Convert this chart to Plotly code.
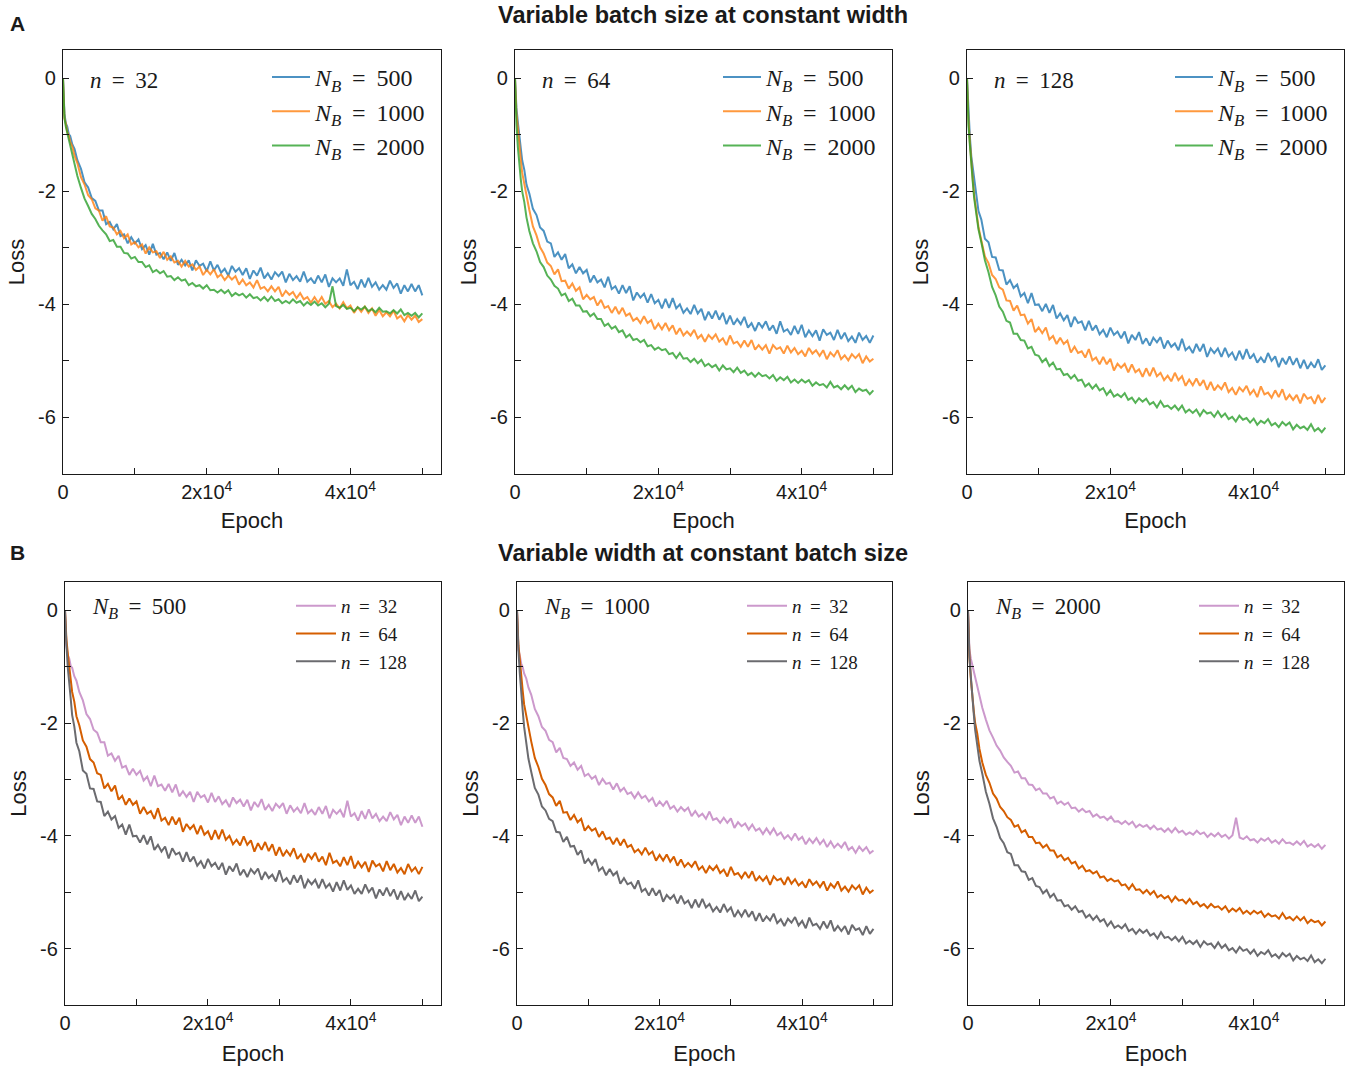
import plotly.graph_objects as go

W, H = 1361, 1074

# Training epochs at which the loss was logged
EPOCHS = [0, 100, 200, 400, 600, 800, 1000, 1300, 1600, 2000, 2500, 3000, 3500, 4000, 4500, 5000] + \
    list(range(5500, 50001, 500))

# Loss curves, one per (width n, batch size N_B)
loss_n32_b500 = [
    0.0, -0.45, -0.63, -0.80, -0.86, -0.99, -1.02, -1.17, -1.25, -1.45, -1.60, -1.84, -1.93, -2.12, -2.17, -2.34,
    -2.34, -2.58, -2.54, -2.67, -2.58, -2.79, -2.76, -2.92, -2.81, -2.92,
    -2.85, -3.02, -2.95, -3.12, -2.93, -3.12, -3.09, -3.20, -3.08, -3.23,
    -3.09, -3.30, -3.21, -3.31, -3.22, -3.40, -3.22, -3.32, -3.28, -3.41,
    -3.24, -3.40, -3.30, -3.44, -3.37, -3.49, -3.32, -3.42, -3.36, -3.48,
    -3.36, -3.55, -3.40, -3.49, -3.35, -3.54, -3.45, -3.56, -3.43, -3.50,
    -3.42, -3.61, -3.46, -3.57, -3.50, -3.60, -3.42, -3.60, -3.54, -3.63,
    -3.49, -3.61, -3.47, -3.69, -3.54, -3.61, -3.54, -3.67, -3.38, -3.66,
    -3.60, -3.73, -3.56, -3.70, -3.53, -3.69, -3.61, -3.74, -3.66, -3.74,
    -3.58, -3.71, -3.63, -3.81, -3.66, -3.77, -3.64, -3.77, -3.66, -3.84]
loss_n32_b1000 = [
    0.0, -0.50, -0.70, -0.81, -0.95, -1.01, -1.12, -1.21, -1.37, -1.50, -1.75, -1.88, -2.07, -2.14, -2.30, -2.34,
    -2.52, -2.44, -2.62, -2.64, -2.76, -2.70, -2.83, -2.76, -2.94, -2.90,
    -2.99, -2.94, -3.10, -2.99, -3.08, -3.06, -3.18, -3.07, -3.21, -3.15,
    -3.26, -3.23, -3.33, -3.23, -3.33, -3.29, -3.39, -3.33, -3.48, -3.39,
    -3.47, -3.38, -3.52, -3.47, -3.57, -3.49, -3.56, -3.50, -3.65, -3.56,
    -3.66, -3.61, -3.70, -3.57, -3.72, -3.69, -3.77, -3.68, -3.77, -3.69,
    -3.86, -3.76, -3.83, -3.78, -3.89, -3.80, -3.91, -3.87, -3.97, -3.87,
    -3.97, -3.87, -3.99, -3.94, -4.05, -3.99, -4.07, -3.96, -4.07, -4.02,
    -4.15, -4.05, -4.13, -4.04, -4.15, -4.07, -4.20, -4.10, -4.21, -4.14,
    -4.21, -4.11, -4.25, -4.20, -4.30, -4.19, -4.27, -4.20, -4.31, -4.26]
loss_n32_b2000 = [
    0.0, -0.50, -0.70, -0.86, -0.97, -1.11, -1.21, -1.39, -1.53, -1.73, -1.94, -2.13, -2.26, -2.40, -2.49, -2.61,
    -2.69, -2.76, -2.88, -2.86, -2.98, -2.98, -3.09, -3.10, -3.19, -3.16,
    -3.25, -3.25, -3.34, -3.31, -3.43, -3.39, -3.45, -3.41, -3.51, -3.50,
    -3.57, -3.52, -3.58, -3.56, -3.66, -3.62, -3.68, -3.66, -3.72, -3.66,
    -3.75, -3.74, -3.79, -3.74, -3.80, -3.75, -3.85, -3.80, -3.84, -3.81,
    -3.88, -3.82, -3.89, -3.87, -3.93, -3.87, -3.94, -3.86, -3.94, -3.91,
    -3.98, -3.94, -3.98, -3.91, -3.97, -3.94, -4.02, -3.96, -4.01, -3.95,
    -4.02, -3.98, -4.05, -3.99, -3.68, -4.03, -4.06, -4.01, -4.08, -4.06,
    -4.12, -4.05, -4.09, -4.04, -4.12, -4.08, -4.14, -4.06, -4.13, -4.12,
    -4.16, -4.10, -4.16, -4.09, -4.19, -4.15, -4.20, -4.15, -4.23, -4.16]
loss_n64_b500 = [
    0.0, -0.30, -0.52, -0.78, -1.07, -1.23, -1.45, -1.62, -1.88, -2.04, -2.31, -2.42, -2.64, -2.70, -2.89, -2.92,
    -3.16, -3.08, -3.21, -3.11, -3.36, -3.29, -3.45, -3.34, -3.45, -3.39,
    -3.61, -3.49, -3.61, -3.56, -3.70, -3.51, -3.73, -3.68, -3.81, -3.66,
    -3.80, -3.68, -3.93, -3.79, -3.88, -3.81, -3.97, -3.82, -3.98, -3.92,
    -4.07, -3.90, -4.06, -3.89, -4.07, -4.00, -4.15, -4.07, -4.17, -4.01,
    -4.16, -4.08, -4.28, -4.13, -4.25, -4.11, -4.27, -4.15, -4.35, -4.20,
    -4.36, -4.26, -4.35, -4.22, -4.41, -4.33, -4.47, -4.32, -4.41, -4.30,
    -4.46, -4.37, -4.52, -4.30, -4.48, -4.44, -4.54, -4.38, -4.52, -4.36,
    -4.58, -4.46, -4.56, -4.46, -4.64, -4.44, -4.54, -4.50, -4.63, -4.45,
    -4.61, -4.50, -4.65, -4.57, -4.68, -4.50, -4.63, -4.56, -4.68, -4.55]
loss_n64_b1000 = [
    0.0, -0.35, -0.62, -0.88, -1.22, -1.43, -1.67, -1.88, -2.12, -2.33, -2.62, -2.78, -2.99, -3.10, -3.26, -3.32,
    -3.47, -3.38, -3.59, -3.58, -3.72, -3.63, -3.76, -3.70, -3.91, -3.83,
    -3.91, -3.87, -4.02, -3.92, -4.06, -4.03, -4.15, -4.04, -4.17, -4.06,
    -4.20, -4.16, -4.29, -4.24, -4.33, -4.21, -4.33, -4.28, -4.44, -4.34,
    -4.44, -4.33, -4.46, -4.37, -4.53, -4.42, -4.55, -4.48, -4.55, -4.45,
    -4.60, -4.54, -4.66, -4.54, -4.61, -4.53, -4.66, -4.60, -4.72, -4.55,
    -4.69, -4.66, -4.75, -4.64, -4.75, -4.63, -4.80, -4.72, -4.80, -4.72,
    -4.87, -4.72, -4.79, -4.76, -4.87, -4.73, -4.85, -4.77, -4.88, -4.82,
    -4.92, -4.77, -4.87, -4.81, -4.91, -4.81, -4.97, -4.85, -4.92, -4.81,
    -4.97, -4.90, -4.99, -4.88, -4.95, -4.88, -5.04, -4.92, -5.01, -4.96]
loss_n64_b2000 = [
    0.0, -0.50, -0.82, -1.22, -1.57, -1.78, -2.00, -2.19, -2.46, -2.70, -2.92, -3.06, -3.25, -3.34, -3.49, -3.56,
    -3.67, -3.72, -3.84, -3.81, -3.94, -3.90, -4.02, -4.02, -4.13, -4.12,
    -4.21, -4.16, -4.26, -4.26, -4.38, -4.34, -4.43, -4.39, -4.49, -4.46,
    -4.58, -4.53, -4.63, -4.61, -4.67, -4.63, -4.74, -4.72, -4.80, -4.76,
    -4.81, -4.79, -4.88, -4.86, -4.95, -4.86, -4.96, -4.95, -5.02, -4.96,
    -5.04, -4.98, -5.09, -5.05, -5.11, -5.07, -5.17, -5.08, -5.15, -5.13,
    -5.20, -5.12, -5.21, -5.17, -5.25, -5.21, -5.28, -5.21, -5.27, -5.25,
    -5.31, -5.25, -5.35, -5.29, -5.34, -5.28, -5.38, -5.33, -5.39, -5.33,
    -5.38, -5.34, -5.44, -5.38, -5.43, -5.41, -5.47, -5.37, -5.47, -5.44,
    -5.50, -5.43, -5.50, -5.44, -5.55, -5.49, -5.53, -5.51, -5.59, -5.52]
loss_n128_b500 = [
    0.0, -0.35, -0.62, -1.03, -1.38, -1.57, -1.86, -2.06, -2.35, -2.50, -2.84, -2.90, -3.16, -3.17, -3.39, -3.40,
    -3.65, -3.57, -3.71, -3.65, -3.86, -3.80, -3.98, -3.80, -4.01, -4.00,
    -4.12, -3.99, -4.15, -4.01, -4.25, -4.16, -4.28, -4.19, -4.40, -4.22,
    -4.33, -4.30, -4.46, -4.29, -4.46, -4.37, -4.53, -4.45, -4.58, -4.41,
    -4.54, -4.48, -4.60, -4.48, -4.69, -4.54, -4.63, -4.49, -4.70, -4.60,
    -4.73, -4.59, -4.67, -4.58, -4.78, -4.64, -4.75, -4.69, -4.81, -4.61,
    -4.81, -4.75, -4.86, -4.70, -4.83, -4.70, -4.93, -4.78, -4.86, -4.78,
    -4.93, -4.77, -4.92, -4.85, -4.99, -4.82, -4.97, -4.79, -4.96, -4.88,
    -5.03, -4.94, -5.03, -4.86, -5.00, -4.92, -5.11, -4.95, -5.06, -4.92,
    -5.07, -4.95, -5.13, -4.98, -5.14, -5.03, -5.12, -4.97, -5.16, -5.08]
loss_n128_b1000 = [
    0.0, -0.40, -0.72, -1.13, -1.52, -1.78, -2.07, -2.33, -2.63, -2.87, -3.15, -3.27, -3.48, -3.55, -3.70, -3.74,
    -3.93, -3.94, -4.11, -4.02, -4.19, -4.18, -4.34, -4.26, -4.49, -4.41,
    -4.51, -4.41, -4.62, -4.56, -4.70, -4.59, -4.70, -4.64, -4.85, -4.75,
    -4.86, -4.83, -4.94, -4.79, -4.99, -4.94, -5.06, -4.93, -5.06, -4.96,
    -5.17, -5.05, -5.12, -5.05, -5.20, -5.06, -5.20, -5.15, -5.28, -5.13,
    -5.27, -5.12, -5.27, -5.21, -5.34, -5.26, -5.36, -5.21, -5.34, -5.27,
    -5.44, -5.33, -5.43, -5.31, -5.44, -5.34, -5.51, -5.37, -5.52, -5.43,
    -5.50, -5.38, -5.55, -5.48, -5.60, -5.47, -5.54, -5.44, -5.59, -5.51,
    -5.64, -5.45, -5.59, -5.56, -5.65, -5.52, -5.64, -5.50, -5.69, -5.60,
    -5.69, -5.60, -5.75, -5.58, -5.67, -5.64, -5.76, -5.60, -5.74, -5.65]
loss_n128_b2000 = [
    0.0, -0.45, -0.82, -1.18, -1.57, -1.83, -2.12, -2.38, -2.67, -2.90, -3.22, -3.43, -3.69, -3.84, -4.04, -4.13,
    -4.29, -4.32, -4.52, -4.52, -4.63, -4.64, -4.78, -4.75, -4.89, -4.91,
    -5.02, -4.96, -5.09, -5.03, -5.15, -5.14, -5.25, -5.23, -5.31, -5.25,
    -5.35, -5.33, -5.45, -5.40, -5.49, -5.42, -5.52, -5.48, -5.60, -5.52,
    -5.63, -5.59, -5.64, -5.57, -5.69, -5.65, -5.74, -5.66, -5.72, -5.67,
    -5.77, -5.73, -5.82, -5.71, -5.81, -5.79, -5.85, -5.79, -5.87, -5.79,
    -5.91, -5.86, -5.92, -5.86, -5.97, -5.87, -5.93, -5.91, -5.99, -5.89,
    -5.99, -5.93, -6.03, -5.99, -6.07, -5.97, -6.04, -6.01, -6.09, -6.02,
    -6.13, -6.06, -6.10, -6.03, -6.14, -6.10, -6.17, -6.08, -6.14, -6.09,
    -6.21, -6.13, -6.19, -6.16, -6.22, -6.12, -6.24, -6.19, -6.26, -6.18]

WIDTHS = [32, 64, 128]
BATCHES = [500, 1000, 2000]
LOSS = {
    (32, 500): loss_n32_b500, (32, 1000): loss_n32_b1000, (32, 2000): loss_n32_b2000,
    (64, 500): loss_n64_b500, (64, 1000): loss_n64_b1000, (64, 2000): loss_n64_b2000,
    (128, 500): loss_n128_b500, (128, 1000): loss_n128_b1000, (128, 2000): loss_n128_b2000,
}

X_TICKS = [0, 20000, 40000]
X_TICKTEXT = ["0", "2x10<sup>4</sup>", "4x10<sup>4</sup>"]
X_MINOR = [10000, 30000, 50000]
Y_TICKS = [0, -2, -4, -6]
Y_TICKTEXT = ["0", "-2", "-4", "-6"]
Y_MINOR = [-1, -3, -5]

BATCH_COLORS = {500: "#1f77b4", 1000: "#ff7f0e", 2000: "#2ca02c"}
WIDTH_COLORS = {32: "#cc99cc", 64: "#d55e00", 128: "#6b6b6f"}

SANS = "Liberation Sans, Arial, Helvetica, sans-serif"
SERIF = "Liberation Serif, Times New Roman, serif"
INK = "#1a1a1a"
SP = "\u2009"  # thin space for math-style spacing around "="

# Panel frames in pixels: (left, top, right, bottom)
PANELS = [
    (63, 50, 441, 474), (515, 50, 892, 474), (967, 50, 1344, 474),
    (65, 582, 441, 1005), (517, 582, 892, 1005), (968, 582, 1344, 1005),
]


def nb(value):
    return f"<i>N</i><sub><i>B</i></sub> {SP}={SP} {value}"


def nw(value):
    return f"<i>n</i> {SP}={SP} {value}"


MINOR_STYLE = dict(ticks="inside", ticklen=6, tickwidth=1.2, tickcolor=INK, showgrid=False)

fig = go.Figure()
layout = dict(
    width=W, height=H,
    margin=dict(l=0, r=0, t=0, b=0),
    paper_bgcolor="white", plot_bgcolor="white",
    font=dict(family=SANS, size=20, color=INK),
    annotations=[],
)

for k, (x0, y0, x1, y1) in enumerate(PANELS):
    idx = k + 1
    sfx = "" if idx == 1 else str(idx)
    top_row = k < 3
    layout[f"xaxis{sfx}"] = dict(
        domain=[x0 / W, x1 / W], anchor=f"y{sfx}", range=[0, 52600], automargin=False,
        tickmode="array", tickvals=X_TICKS, ticktext=X_TICKTEXT,
        minor=dict(tickmode="array", tickvals=X_MINOR, **MINOR_STYLE),
        ticks="inside", ticklen=6, tickwidth=1.2, tickcolor=INK,
        showline=True, linecolor=INK, linewidth=1.4, mirror=True,
        showgrid=False, zeroline=False,
        tickfont=dict(family=SANS, size=20, color=INK),
        title=dict(text="Epoch", font=dict(family=SANS, size=22, color=INK),
                   standoff=10 if top_row else 12),
    )
    layout[f"yaxis{sfx}"] = dict(
        domain=[1 - y1 / H, 1 - y0 / H], anchor=f"x{sfx}", range=[-7, 0.5], automargin=False,
        tickmode="array", tickvals=Y_TICKS, ticktext=Y_TICKTEXT,
        minor=dict(tickmode="array", tickvals=Y_MINOR, **MINOR_STYLE),
        ticks="inside", ticklen=6, tickwidth=1.2, tickcolor=INK,
        showline=True, linecolor=INK, linewidth=1.4, mirror=True,
        showgrid=False, zeroline=False, ticklabelstandoff=2,
        tickfont=dict(family=SANS, size=20, color=INK),
        title=dict(text="Loss", font=dict(family=SANS, size=22, color=INK), standoff=7),
    )

    col = k % 3
    leg = "legend" if idx == 1 else f"legend{idx}"
    if top_row:
        n = WIDTHS[col]
        series = [(BATCH_COLORS[b], LOSS[(n, b)], nb(b), 0.8) for b in BATCHES]
        label = nw(n)
        leg_font, leg_w, leg_x, leg_y, lab_y = 24, 38, x1 - 174, y0 + 5, y0 + 30
    else:
        b = BATCHES[col]
        series = [(WIDTH_COLORS[n], LOSS[(n, b)], nw(n), 1.0) for n in WIDTHS]
        label = nb(b)
        leg_font, leg_w, leg_x, leg_y, lab_y = 19, 40, x1 - 150, y0 + 5, y0 + 26

    for color, values, name, alpha in series:
        fig.add_trace(go.Scatter(
            x=EPOCHS, y=values, mode="lines", name=name,
            line=dict(color=color, width=2.0), opacity=alpha,
            xaxis=f"x{sfx}", yaxis=f"y{sfx}", legend=leg,
        ))

    layout[leg] = dict(
        x=leg_x / W, y=1 - leg_y / H, xanchor="left", yanchor="top",
        bgcolor="rgba(0,0,0,0)", borderwidth=0,
        font=dict(family=SERIF, size=leg_font, color=INK),
        itemwidth=leg_w, tracegroupgap=0,
    )

    layout["annotations"].append(dict(
        text=label, xref="paper", yref="paper",
        x=(x0 + 25) / W, y=1 - lab_y / H, xanchor="left", yanchor="middle",
        showarrow=False, font=dict(family=SERIF, size=23, color=INK),
    ))

# Row headings and panel letters
for text, y in [("Variable batch size at constant width", 15),
                ("Variable width at constant batch size", 553)]:
    layout["annotations"].append(dict(
        text=f"<b>{text}</b>", xref="paper", yref="paper",
        x=703 / W, y=1 - y / H, xanchor="center", yanchor="middle",
        showarrow=False, font=dict(family=SANS, size=23.5, color=INK),
    ))
for text, y in [("A", 24), ("B", 552)]:
    layout["annotations"].append(dict(
        text=f"<b>{text}</b>", xref="paper", yref="paper",
        x=8 / W, y=1 - y / H, xanchor="left", yanchor="middle",
        showarrow=False, font=dict(family=SANS, size=21, color=INK),
    ))

fig.update_layout(**layout)
fig.write_html("out.html")
